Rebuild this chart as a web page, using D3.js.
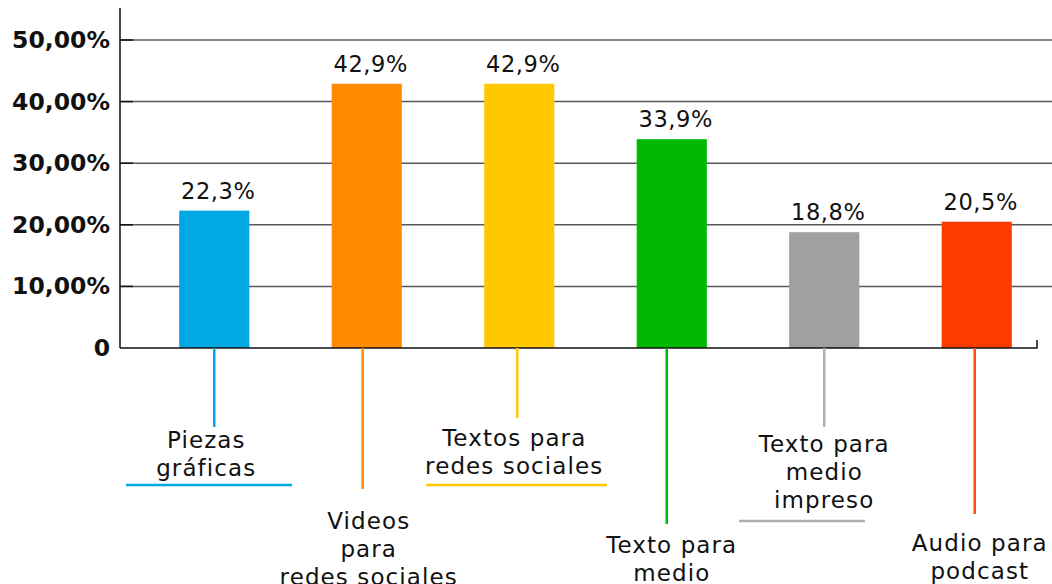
<!DOCTYPE html>
<html>
<head>
<meta charset="utf-8">
<script src="https://cdn.jsdelivr.net/npm/d3@7"></script>
<style>
  html, body { margin: 0; padding: 0; background: #fff; overflow: hidden; }
  svg { display: block; }
</style>
</head>
<body>
<svg id="chart" width="1052" height="584"></svg>
<script>
// Share of respondents producing each kind of content
const categories = [
  "Piezas gráficas",
  "Videos para redes sociales",
  "Textos para redes sociales",
  "Texto para medio",
  "Texto para medio impreso",
  "Audio para podcast"
];
const values = [22.3, 42.9, 42.9, 33.9, 18.8, 20.5];
const valueLabels = ["22,3%", "42,9%", "42,9%", "33,9%", "18,8%", "20,5%"];
const labelLines = [
  ["Piezas", "gráficas"],
  ["Videos", "para", "redes sociales"],
  ["Textos para", "redes sociales"],
  ["Texto para", "medio"],
  ["Texto para", "medio", "impreso"],
  ["Audio para", "podcast"]
];
const yTicks = [0, 10, 20, 30, 40, 50];
const yTickLabels = ["0", "10,00%", "20,00%", "30,00%", "40,00%", "50,00%"];
const barColors = ["#00a8e4", "#ff8a00", "#ffc800", "#00b900", "#a0a0a0", "#ff3c00"];
const leaderColors = ["#00a8e4", "#ff8a00", "#ffc800", "#00b900", "#b0b0b0", "#ff4a10"];

// Placement of the staggered category labels below the axis
const labelLayout = [
  { leaderEnd: 427, firstLine: 440, dx: -8, lx: 0, underline: { y: 485, x1: 126, x2: 292 } },
  { leaderEnd: 489, firstLine: 521, dx: 2, lx: -4, underline: null },
  { leaderEnd: 418, firstLine: 438, dx: -5, lx: -2, underline: { y: 485, x1: 426, x2: 607 } },
  { leaderEnd: 524, firstLine: 545, dx: 0, lx: -5, underline: null },
  { leaderEnd: 427, firstLine: 444, dx: 0, lx: 0, underline: { y: 521, x1: 739, x2: 865 } },
  { leaderEnd: 514, firstLine: 543, dx: 3, lx: -2, underline: null }
];
const lineStep = 28;

const svg = d3.select("#chart");
const axisX = 120, baseY = 348, topY = 8;
const FONT = "'DejaVu Sans', 'Noto Sans', sans-serif";

const x = d3.scaleBand()
  .domain(categories)
  .range([138, 1053])
  .paddingInner(0.54)
  .paddingOuter(0.27);

const y = d3.scaleLinear()
  .domain([0, 50])
  .range([baseY, baseY - 5 * 61.6]);

// horizontal gridlines
svg.append("g")
  .selectAll("line")
  .data(yTicks.filter(d => d > 0))
  .join("line")
  .attr("x1", axisX)
  .attr("x2", 1052)
  .attr("y1", d => y(d))
  .attr("y2", d => y(d))
  .attr("stroke", "#5a5a5a")
  .attr("stroke-width", 1.5);

// y axis
const yAxis = d3.axisLeft(y)
  .tickValues(yTicks)
  .tickFormat((d, i) => yTickLabels[i])
  .tickSize(0)
  .tickPadding(10);

const gy = svg.append("g")
  .attr("transform", `translate(${axisX},0)`)
  .call(yAxis);
gy.select(".domain").remove();
gy.selectAll("text")
  .attr("font-family", FONT)
  .attr("font-weight", "bold")
  .attr("font-size", 23.5)
  .attr("fill", "#111");

// short dark ticks over the gridlines
svg.append("g")
  .selectAll("line")
  .data(yTicks.filter(d => d > 0))
  .join("line")
  .attr("x1", axisX)
  .attr("x2", axisX + 13)
  .attr("y1", d => y(d))
  .attr("y2", d => y(d))
  .attr("stroke", "#111")
  .attr("stroke-width", 1.5);

// bars
svg.append("g")
  .selectAll("rect")
  .data(categories)
  .join("rect")
  .attr("x", d => x(d))
  .attr("width", x.bandwidth())
  .attr("y", (d, i) => y(values[i]))
  .attr("height", (d, i) => baseY - y(values[i]))
  .attr("fill", (d, i) => barColors[i]);

// value labels
svg.append("g")
  .selectAll("text")
  .data(categories)
  .join("text")
  .attr("x", d => x(d) + x.bandwidth() / 2 + 4)
  .attr("y", (d, i) => y(values[i]) - 12)
  .attr("text-anchor", "middle")
  .attr("font-family", FONT)
  .attr("font-size", 22.5)
  .attr("letter-spacing", 0.6)
  .attr("fill", "#111")
  .text((d, i) => valueLabels[i]);

// axis lines
svg.append("line")
  .attr("x1", axisX).attr("x2", axisX)
  .attr("y1", topY).attr("y2", baseY)
  .attr("stroke", "#111").attr("stroke-width", 1.5);
svg.append("path")
  .attr("d", `M${axisX},${baseY}H1037V${baseY - 8}`)
  .attr("fill", "none")
  .attr("stroke", "#111").attr("stroke-width", 1.5);

// leader lines and category labels
const cat = svg.append("g")
  .selectAll("g")
  .data(categories)
  .join("g");

cat.append("line")
  .attr("x1", (d, i) => x(d) + x.bandwidth() / 2 + labelLayout[i].lx)
  .attr("x2", (d, i) => x(d) + x.bandwidth() / 2 + labelLayout[i].lx)
  .attr("y1", baseY)
  .attr("y2", (d, i) => labelLayout[i].leaderEnd)
  .attr("stroke", (d, i) => leaderColors[i])
  .attr("stroke-width", 2.5);

cat.each(function (d, i) {
  const g = d3.select(this);
  const cx = x(d) + x.bandwidth() / 2 + labelLayout[i].dx;
  g.selectAll("text")
    .data(labelLines[i])
    .join("text")
    .attr("x", cx)
    .attr("y", (t, j) => labelLayout[i].firstLine + j * lineStep)
    .attr("dy", "0.36em")
    .attr("text-anchor", "middle")
    .attr("font-family", FONT)
    .attr("font-size", 23)
    .attr("letter-spacing", 1.1)
    .attr("fill", "#111")
    .text(t => t);
  const u = labelLayout[i].underline;
  if (u) {
    g.append("line")
      .attr("x1", u.x1).attr("x2", u.x2)
      .attr("y1", u.y).attr("y2", u.y)
      .attr("stroke", leaderColors[i])
      .attr("stroke-width", 2.5);
  }
});
</script>
</body>
</html>
